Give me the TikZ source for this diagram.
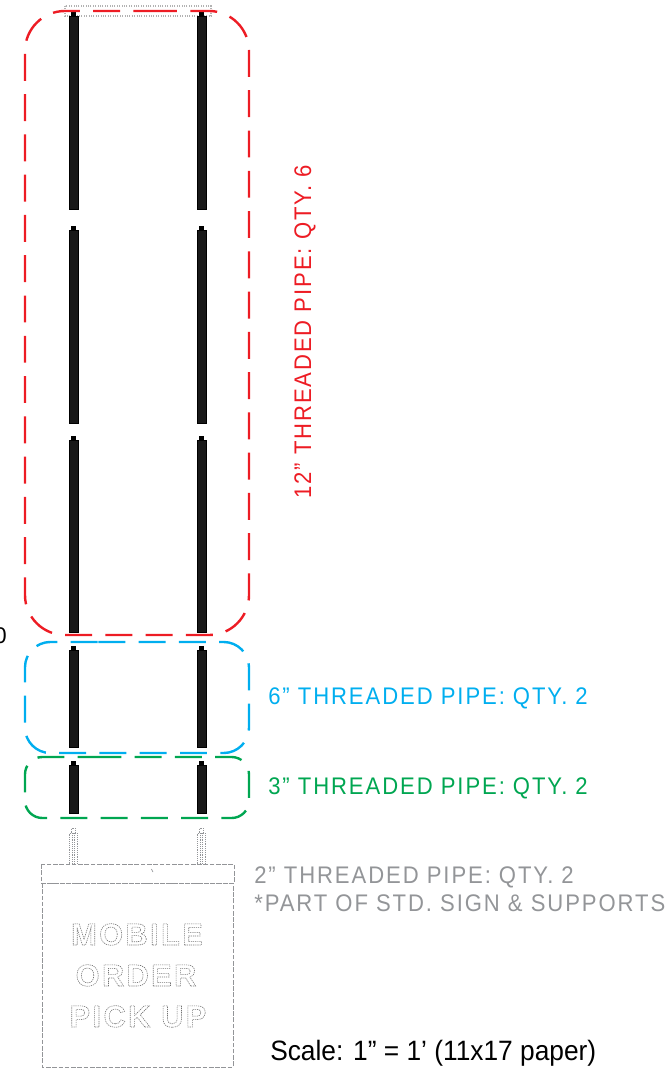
\documentclass[tikz,border=0pt]{standalone}
\usepackage{fontspec}
\setmainfont{Liberation Sans}
\newfontfamily\cadfont[LetterSpace=8,FakeStretch=0.92]{Liberation Sans}
\newfontfamily\signfont[LetterSpace=8]{Liberation Sans Bold}
\newfontfamily\scalefont[FakeStretch=0.94]{Liberation Sans}
\definecolor{pipered}{HTML}{ED1C24}
\definecolor{pipeblue}{HTML}{00AEEF}
\definecolor{pipegreen}{HTML}{00A651}
\definecolor{pipegray}{HTML}{939598}
\newcommand{\outlined}[1]{\special{pdf:code q 1 Tr 0.45 w [0.9 0.7] 0 d 0.45 G}#1\special{pdf:code Q}}
\tikzset{
  cutbox/.style={line width=1.8pt,dash pattern=on 20.2pt off 10pt,rounded corners=#1},
  solidpipe/.style={fill=black!90,draw=black,line width=0.6pt},
  ghostpipe/.style={draw=pipegray,line width=0.4pt,densely dotted},
  signline/.style={draw=pipegray,line width=0.6pt,dash pattern=on 3.5pt off 1.2pt},
  cadlabel/.style={anchor=base west,inner sep=0pt,font=\cadfont\fontsize{18}{18}\selectfont},
  signtext/.style={anchor=base,inner sep=0pt,font=\signfont\fontsize{23}{23}\selectfont}
}
\begin{document}
\begin{tikzpicture}[x=0.75pt,y=-0.75pt]
  \useasboundingbox (0,0) rectangle (670,1070);
  \draw[draw=black!30,line width=0.8pt,densely dotted] (65,6) rectangle (211,16);
  \foreach \xpos in {69,197} {
    \foreach \ytop/\ybot in {16/209,230/423,440/632,650/747,765/813} {
      \fill[black] (\xpos+2,\ytop-4) rectangle (\xpos+7,\ytop+1);
      \draw[solidpipe] (\xpos,\ytop) rectangle (\xpos+9,\ybot);
    }
    \draw[ghostpipe] (\xpos+2,833) -- (\xpos+2,828) -- (\xpos+6,828) -- (\xpos+6,833);
    \draw[ghostpipe] (\xpos,864) -- (\xpos,833) -- (\xpos+8,833) -- (\xpos+8,864);
    \draw[ghostpipe] (\xpos+3,833) -- (\xpos+3,864);
    \draw[ghostpipe] (\xpos+5,833) -- (\xpos+5,864);
  }
  \draw[cutbox=30pt,pipered] (110,11) -- (249,11) -- (249,635) -- (25,635) -- (25,11) -- cycle;
  \draw[cutbox=19pt,pipeblue] (73,642) -- (249,642) -- (249,753) -- (25,753) -- (25,642) -- cycle;
  \draw[cutbox=13pt,pipegreen] (77,757) -- (249,757) -- (249,818) -- (25,818) -- (25,757) -- cycle;
  \draw[signline] (41,864) rectangle (234,883);
  \draw[signline] (42,883) rectangle (233,1067);
  \draw[pipegray,line width=0.5pt] (151.5,869) -- (153,872);
  \node[signtext] (mobile) at (137,945) {\outlined{MOBILE}};
  \node[signtext] (order) at (136,986) {\outlined{ORDER}};
  \node[signtext] (pickup) at (138,1027) {\outlined{PICK UP}};
  \node[cadlabel,text=pipered,rotate=90] (label12) at (311,499) {12” THREADED PIPE: QTY. 6};
  \node[cadlabel,text=pipeblue] (label6) at (268,704) {6” THREADED PIPE: QTY. 2};
  \node[cadlabel,text=pipegreen] (label3) at (268,794) {3” THREADED PIPE: QTY. 2};
  \node[cadlabel,text=pipegray] (label2) at (254,883) {2” THREADED PIPE: QTY. 2};
  \node[cadlabel,text=pipegray] (partof) at (254,911) {*PART OF STD. SIGN \& SUPPORTS};
  \node[anchor=base west,inner sep=0pt,font=\scalefont\fontsize{21}{21}\selectfont] (scale) at (270,1060) {Scale: 1” = 1’ (11x17 paper)};
  \node[anchor=base east,inner sep=0pt,font=\fontsize{17}{17}\selectfont] (zero) at (7,643) {0};
\end{tikzpicture}
\end{document}
